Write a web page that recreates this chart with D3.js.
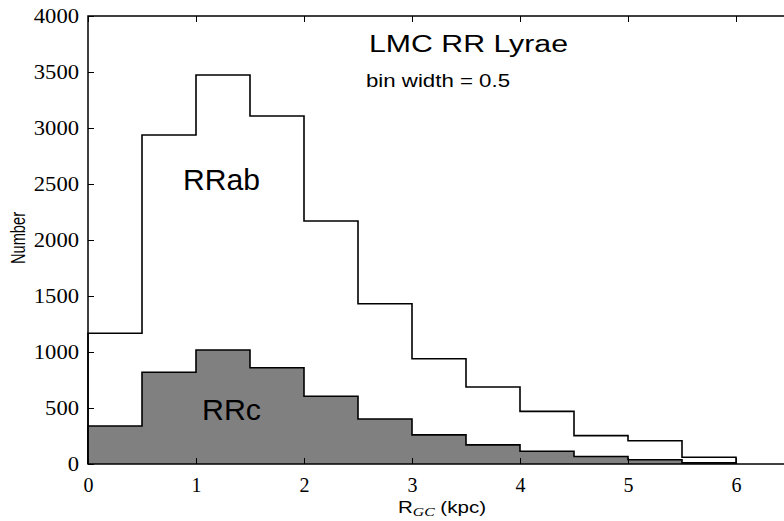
<!DOCTYPE html>
<html>
<head>
<meta charset="utf-8">
<script src="https://cdn.jsdelivr.net/npm/d3@7/dist/d3.min.js"></script>
<style>
  html, body { margin: 0; padding: 0; background: #fff; }
  svg { display: block; }
</style>
</head>
<body>
<svg id="chart" width="784" height="521"></svg>
<script>
// ---- data ----
const binEdges = [0, 0.5, 1, 1.5, 2, 2.5, 3, 3.5, 4, 4.5, 5, 5.5, 6];
const rrabCounts = [1167, 2937, 3473, 3107, 2170, 1431, 940, 688, 470, 253, 208, 60];
const rrcCounts  = [339, 819, 1018, 860, 605, 402, 260, 171, 114, 67, 38, 10];
const xTicks = [0, 1, 2, 3, 4, 5, 6];
const yTicks = [0, 500, 1000, 1500, 2000, 2500, 3000, 3500, 4000];
const titleText = "LMC RR Lyrae";
const subText = "bin width = 0.5";
const rrabLabel = "RRab";
const rrcLabel = "RRc";
const yLabel = "Number";

// ---- layout ----
const mLeft = 88, mRight = 844, mTop = 16, mBottom = 464;
const svg = d3.select("#chart");
const x = d3.scaleLinear().domain([0, 7]).range([mLeft, mRight]);
const y = d3.scaleLinear().domain([0, 4000]).range([mBottom, mTop]);

function stepPoints(counts) {
  const pts = [[binEdges[0], 0]];
  counts.forEach((c, i) => { pts.push([binEdges[i], c]); pts.push([binEdges[i + 1], c]); });
  pts.push([binEdges[binEdges.length - 1], 0]);
  return pts;
}

const line = d3.line().x(d => x(d[0])).y(d => y(d[1]));
const area = d3.area().x(d => x(d[0])).y0(y(0)).y1(d => y(d[1]));

// RRab step outline
svg.append("path")
  .attr("d", line(stepPoints(rrabCounts)))
  .attr("fill", "none").attr("stroke", "#000").attr("stroke-width", 1.6)
  .attr("stroke-linejoin", "miter");

// RRc filled step
svg.append("path")
  .attr("d", area(stepPoints(rrcCounts)))
  .attr("fill", "#808080").attr("stroke", "none");
svg.append("path")
  .attr("d", line(stepPoints(rrcCounts)))
  .attr("fill", "none").attr("stroke", "#000").attr("stroke-width", 1.6);

// frame
svg.append("rect")
  .attr("x", mLeft).attr("y", mTop).attr("width", mRight - mLeft).attr("height", mBottom - mTop)
  .attr("fill", "none").attr("stroke", "#000").attr("stroke-width", 1.5);

// ticks (inward) via axes
const serifFont = "'Liberation Serif', 'DejaVu Serif', serif";
const xAxis = svg.append("g").attr("transform", `translate(0,${mBottom})`)
  .call(d3.axisBottom(x).tickValues(xTicks).tickSize(-6).tickPadding(13).tickFormat(d3.format("d")));
const xAxisTop = svg.append("g").attr("transform", `translate(0,${mTop})`)
  .call(d3.axisTop(x).tickValues(xTicks).tickSize(-6).tickFormat(""));
const yAxis = svg.append("g").attr("transform", `translate(${mLeft},0)`)
  .call(d3.axisLeft(y).tickValues(yTicks).tickSize(-6).tickPadding(9).tickFormat(d3.format("d")));
[xAxis, xAxisTop, yAxis].forEach(g => {
  g.select(".domain").remove();
  g.attr("font-family", null);
  g.selectAll(".tick line").attr("stroke", "#000").attr("stroke-width", 1);
  g.selectAll("text").attr("fill", "#000")
    .style("font-family", serifFont).style("font-size", "21px");
});
xAxis.selectAll("text").attr("dy", "0.71em");
yAxis.selectAll("text").each(function(d) {
  d3.select(this).attr("textLength", String(d).length * 11.3).attr("lengthAdjust", "spacingAndGlyphs");
});
xAxis.selectAll("text").attr("textLength", 10).attr("lengthAdjust", "spacingAndGlyphs");

// texts
const sans = "'Liberation Sans', Arial, Helvetica, sans-serif";
function label(txt, xPos, yPos, size, len) {
  return svg.append("text").attr("x", xPos).attr("y", yPos)
    .attr("font-family", sans).attr("font-size", size).attr("fill", "#000")
    .attr("textLength", len).attr("lengthAdjust", "spacingAndGlyphs")
    .text(txt);
}
label(titleText, 369, 52, 23, 199);
label(subText, 366, 87, 18, 144);
label(rrabLabel, 183, 190, 29, 77);
label(rrcLabel, 202, 420, 29, 59);

// y label
svg.append("text")
  .attr("transform", "translate(25,238) scale(1.25,1) rotate(-90)")
  .attr("text-anchor", "middle")
  .attr("font-family", sans).attr("font-size", 16).attr("fill", "#000")
  .attr("textLength", 52).attr("lengthAdjust", "spacingAndGlyphs")
  .text(yLabel);

// x label: R_GC (kpc)
const xl = svg.append("text").attr("x", 398).attr("y", 513)
  .attr("font-family", sans).attr("font-size", 17).attr("fill", "#000")
  .attr("textLength", 88).attr("lengthAdjust", "spacingAndGlyphs");
xl.append("tspan").text("R");
xl.append("tspan").style("font-family", serifFont).attr("font-style", "italic")
  .attr("font-size", 13).attr("dy", 3).text("GC");
xl.append("tspan").attr("dy", -3).text(" (kpc)");
</script>
</body>
</html>
